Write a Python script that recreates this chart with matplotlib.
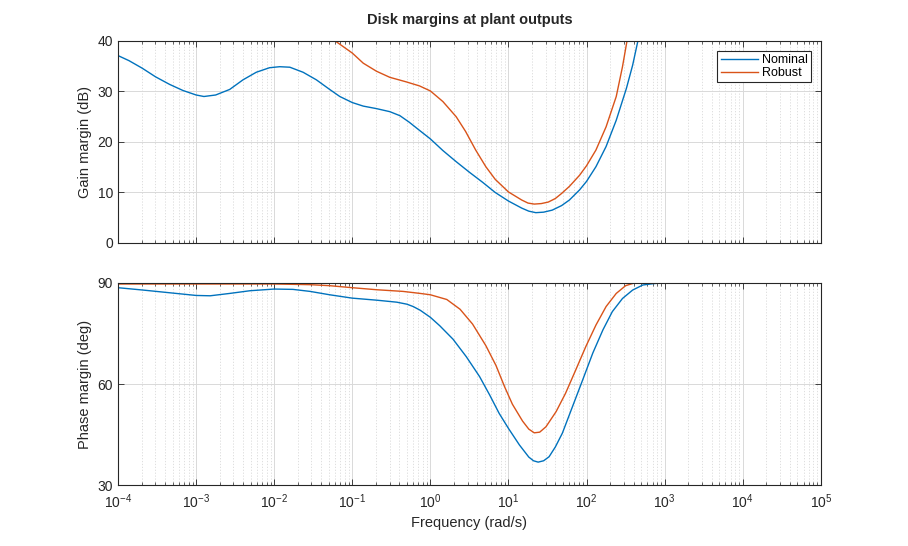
import numpy as np
import matplotlib
matplotlib.use("Agg")
import matplotlib.pyplot as plt
from matplotlib.ticker import LogLocator, NullFormatter, FixedLocator, FuncFormatter

plt.rcParams['font.family'] = ['Liberation Sans', 'DejaVu Sans']
plt.rcParams['mathtext.fontset'] = 'custom'
plt.rcParams['mathtext.rm'] = 'Liberation Sans'
plt.rcParams['mathtext.it'] = 'Liberation Sans'
plt.rcParams['mathtext.default'] = 'regular'
plt.rcParams['axes.unicode_minus'] = False

# gain margin (dB), x given as log10(freq)
gm_nom_logw = [-4.0, -3.86, -3.69, -3.52, -3.34, -3.17, -3.0, -2.9, -2.75, -2.57,
               -2.40, -2.23, -2.06, -1.93, -1.80, -1.63, -1.46, -1.29, -1.16, -1.0,
               -0.86, -0.69, -0.52, -0.39, -0.27, -0.14, 0.0, 0.16, 0.33, 0.50, 0.67,
               0.83, 1.0, 1.17, 1.26, 1.35, 1.45, 1.56, 1.68, 1.78, 1.91, 2.0, 2.12,
               2.25, 2.38, 2.51, 2.59, 2.66, 2.72]
gm_nom = [37.1, 36.1, 34.6, 32.9, 31.4, 30.2, 29.3, 29.0, 29.3, 30.4,
          32.3, 33.8, 34.7, 34.9, 34.8, 33.8, 32.3, 30.4, 29.0, 27.8,
          27.1, 26.6, 26.0, 25.2, 23.9, 22.3, 20.6, 18.3, 16.1, 14.0, 12.0,
          10.0, 8.3, 6.9, 6.3, 6.0, 6.1, 6.5, 7.4, 8.5, 10.5, 12.2, 15.1,
          19.1, 24.3, 30.6, 35.2, 40.2, 44.0]

gm_rob_logw = [-1.28, -1.21, -1.0, -0.86, -0.69, -0.52, -0.31, -0.14, 0.0, 0.16,
               0.33, 0.45, 0.58, 0.71, 0.83, 1.0, 1.17, 1.25, 1.33, 1.42, 1.51,
               1.60, 1.68, 1.78, 1.91, 2.0, 2.12, 2.25, 2.38, 2.46, 2.52, 2.57]
gm_rob = [41.0, 39.9, 37.6, 35.6, 34.0, 32.8, 31.9, 31.1, 30.1, 28.0,
          25.0, 22.1, 18.4, 15.1, 12.6, 10.1, 8.5, 7.9, 7.7, 7.8, 8.1,
          8.8, 9.8, 11.2, 13.4, 15.3, 18.4, 23.0, 29.0, 34.9, 40.2, 44.0]

# phase margin (deg)
pm_nom_logw = [-4.0, -3.68, -3.34, -3.0, -2.82, -2.57, -2.31, -2.0, -1.76, -1.54,
               -1.29, -1.0, -0.69, -0.43, -0.30, -0.22, -0.13, 0.0, 0.12, 0.29, 0.46,
               0.63, 0.76, 0.88, 1.0, 1.14, 1.26, 1.32, 1.38, 1.45, 1.52, 1.60, 1.69,
               1.82, 1.95, 2.08, 2.21, 2.33, 2.46, 2.59, 2.72, 2.85, 2.95, 3.2, 5.0]
pm_nom = [88.6, 87.9, 87.1, 86.3, 86.2, 86.9, 87.7, 88.2, 88.1, 87.5,
          86.5, 85.5, 84.9, 84.3, 83.7, 83.0, 81.9, 79.8, 77.3, 73.3, 68.1,
          62.2, 56.7, 51.3, 46.8, 41.9, 38.3, 37.2, 36.8, 37.2, 38.4, 41.3, 45.4,
          53.3, 61.2, 69.2, 76.1, 81.5, 85.4, 87.9, 89.4, 89.8, 90.0, 90.0, 90.0]

pm_rob_logw = [-4.0, -3.0, -2.0, -1.76, -1.54, -1.29, -1.0, -0.69, -0.35, -0.13,
               0.0, 0.21, 0.38, 0.54, 0.71, 0.84, 0.95, 1.05, 1.18, 1.26, 1.33,
               1.40, 1.48, 1.61, 1.73, 1.86, 1.99, 2.12, 2.25, 2.38, 2.50, 2.61,
               3.0, 5.0]
pm_rob = [89.7, 89.7, 89.7, 89.6, 89.5, 89.2, 88.6, 88.0, 87.5, 86.9,
          86.5, 85.1, 82.2, 77.8, 71.4, 65.5, 59.2, 54.0, 49.0, 46.6, 45.5,
          45.7, 47.3, 51.8, 57.2, 64.1, 71.1, 77.5, 83.0, 86.9, 89.2, 90.0,
          90.0, 90.0]

blue = '#0072BD'
orange = '#D95319'


def pow10(v, pos):
    return '$10^{%d}$' % round(np.log10(v))


fig = plt.figure(figsize=(9.08, 5.46), dpi=100)
ax1 = fig.add_axes([0.130, 0.555, 0.774, 0.370])
ax2 = fig.add_axes([0.130, 0.1117, 0.774, 0.370])

ax1.plot(10 ** np.array(gm_nom_logw), gm_nom, color=blue, lw=1.0, label='Nominal')
ax1.plot(10 ** np.array(gm_rob_logw), gm_rob, color=orange, lw=1.0, label='Robust')
ax2.plot(10 ** np.array(pm_nom_logw), pm_nom, color=blue, lw=1.0)
ax2.plot(10 ** np.array(pm_rob_logw), pm_rob, color=orange, lw=1.0)

for ax in (ax1, ax2):
    ax.set_xscale('log')
    ax.set_xlim(1e-4, 1e5)
    ax.xaxis.set_major_locator(LogLocator(base=10, numticks=20))
    ax.xaxis.set_minor_locator(LogLocator(base=10, subs=np.arange(2, 10), numticks=20))
    ax.xaxis.set_minor_formatter(NullFormatter())
    ax.tick_params(which='both', direction='in', top=True, right=True, colors='#262626',
                   labelsize=10)
    ax.tick_params(which='major', length=4, width=0.6)
    ax.tick_params(which='minor', length=2, width=0.5)
    ax.tick_params(axis='x', pad=5)
    ax.grid(True, which='major', color='#d9d9d9', lw=0.7, ls='-')
    ax.grid(True, which='minor', color='#d9d9d9', lw=0.6, ls=(0, (1.5, 2)))
    for s in ax.spines.values():
        s.set_color('#262626')
        s.set_linewidth(0.8)
    ax.set_axisbelow(True)

ax1.set_ylim(0, 40)
ax1.yaxis.set_major_locator(FixedLocator([0, 10, 20, 30, 40]))
ax1.xaxis.set_major_formatter(NullFormatter())
ax1.set_ylabel('Gain margin (dB)', fontsize=10.5, color='#262626')
ax1.set_title('Disk margins at plant outputs', fontsize=10.5, fontweight='bold',
              color='#262626', pad=12)
leg = ax1.legend(loc='upper right', fontsize=9, fancybox=False, framealpha=1,
                 edgecolor='#262626', borderpad=0.25, labelspacing=0.1,
                 handlelength=3.0, handletextpad=0.3, borderaxespad=0.8)
leg.get_frame().set_linewidth(0.8)

ax2.set_ylim(30, 90)
ax2.yaxis.set_major_locator(FixedLocator([30, 60, 90]))
ax2.xaxis.set_major_formatter(FuncFormatter(pow10))
ax2.set_ylabel('Phase margin (deg)', fontsize=10.5, color='#262626')
ax2.set_xlabel('Frequency (rad/s)', fontsize=10.5, color='#262626')

fig.savefig('out.png', dpi=100)
